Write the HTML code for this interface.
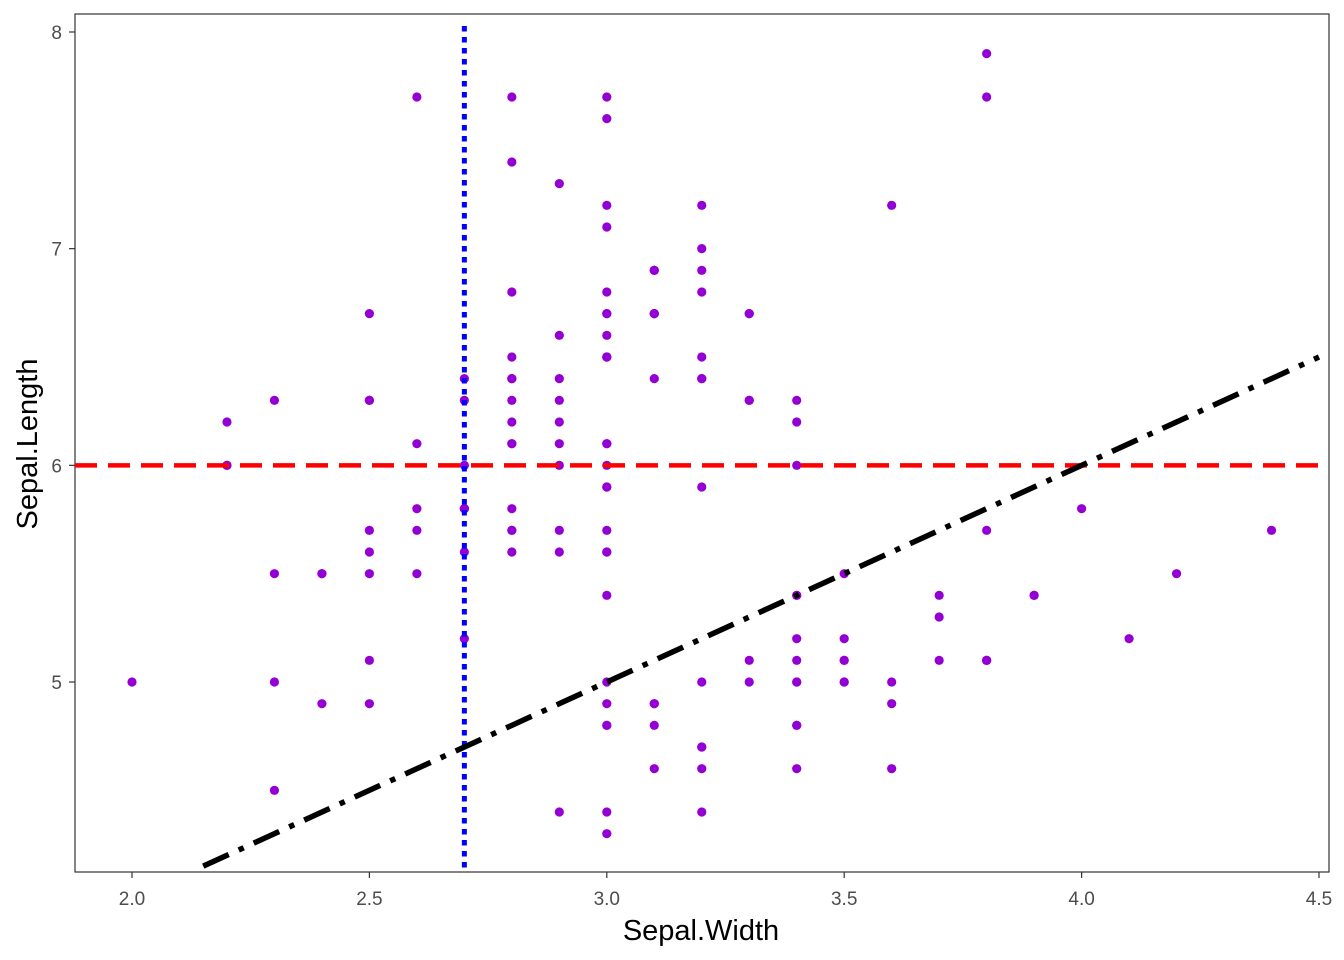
<!DOCTYPE html>
<html><head><meta charset="utf-8"><style>
html,body{margin:0;padding:0;background:#fff;}
svg{display:block;font-family:"Liberation Sans",sans-serif;}
</style></head><body>
<svg id="chart" width="1344" height="960">
<rect x="75" y="14" width="1254" height="858" fill="#fff" stroke="#333" stroke-width="1.2"/>
<g id="pts"></g>
<g id="refs"></g>
<g id="xt"></g>
<g id="yt"></g>
<text x="701" y="940" text-anchor="middle" font-size="29" fill="#000">Sepal.Width</text>
<text transform="translate(37,444) rotate(-90)" text-anchor="middle" font-size="29" fill="#000">Sepal.Length</text>
</svg>
<script>
const sepalWidth=[3.5,3.0,3.2,3.1,3.6,3.9,3.4,3.4,2.9,3.1,3.7,3.4,3.0,3.0,4.0,4.4,3.9,3.5,3.8,3.8,3.4,3.7,3.6,3.3,3.4,3.0,3.4,3.5,3.4,3.2,3.1,3.4,4.1,4.2,3.1,3.2,3.5,3.6,3.0,3.4,3.5,2.3,3.2,3.5,3.8,3.0,3.8,3.2,3.7,3.3,
3.2,3.2,3.1,2.3,2.8,2.8,3.3,2.4,2.9,2.7,2.0,3.0,2.2,2.9,2.9,3.1,3.0,2.7,2.2,2.5,3.2,2.8,2.5,2.8,2.9,3.0,2.8,3.0,2.9,2.6,2.4,2.4,2.7,2.7,3.0,3.4,3.1,2.3,3.0,2.5,2.6,3.0,2.6,2.3,2.7,3.0,2.9,2.9,2.5,2.8,
3.3,2.7,3.0,2.9,3.0,3.0,2.5,2.9,2.5,3.6,3.2,2.7,3.0,2.5,2.8,3.2,3.0,3.8,2.6,2.2,3.2,2.8,2.8,2.7,3.3,3.2,2.8,3.0,2.8,3.0,2.8,3.8,2.8,2.8,2.6,3.0,3.4,3.1,3.0,3.1,3.1,3.1,2.7,3.2,3.3,3.0,2.5,3.0,3.4,3.0];
const sepalLength=[5.1,4.9,4.7,4.6,5.0,5.4,4.6,5.0,4.4,4.9,5.4,4.8,4.8,4.3,5.8,5.7,5.4,5.1,5.7,5.1,5.4,5.1,4.6,5.1,4.8,5.0,5.0,5.2,5.2,4.7,4.8,5.4,5.2,5.5,4.9,5.0,5.5,4.9,4.4,5.1,5.0,4.5,4.4,5.0,5.1,4.8,5.1,4.6,5.3,5.0,
7.0,6.4,6.9,5.5,6.5,5.7,6.3,4.9,6.6,5.2,5.0,5.9,6.0,6.1,5.6,6.7,5.6,5.8,6.2,5.6,5.9,6.1,6.3,6.1,6.4,6.6,6.8,6.7,6.0,5.7,5.5,5.5,5.8,6.0,5.4,6.0,6.7,6.3,5.6,5.5,5.5,6.1,5.8,5.0,5.6,5.7,5.7,6.2,5.1,5.7,
6.3,5.8,7.1,6.3,6.5,7.6,4.9,7.3,6.7,7.2,6.5,6.4,6.8,5.7,5.8,6.4,6.5,7.7,7.7,6.0,6.9,5.6,7.7,6.3,6.7,7.2,6.2,6.1,6.4,7.2,7.4,7.9,6.4,6.3,6.1,7.7,6.3,6.4,6.0,6.9,6.7,6.9,5.8,6.8,6.7,6.7,6.3,6.5,6.2,5.9];
const xTicks=[2.0,2.5,3.0,3.5,4.0,4.5];
const xTickLabels=["2.0","2.5","3.0","3.5","4.0","4.5"];
const yTicks=[5,6,7,8];
const yTickLabels=["5","6","7","8"];
const hlineY=[6];
const vlineX=[2.7];
const ablineIntercept=[2];
const ablineSlope=[1];

const X0=75,X1=1329,Y0=14,Y1=872;
const sx=v=>132+(v-2.0)*474.8;
const sy=v=>682-(v-5)*216.67;
const NS="http://www.w3.org/2000/svg";
function mk(tag,attrs,parent){const e=document.createElementNS(NS,tag);for(const k in attrs)e.setAttribute(k,attrs[k]);parent.appendChild(e);return e;}
const pts=document.getElementById('pts');
for(let i=0;i<sepalWidth.length;i++){
  const c=mk('circle',{cx:sx(sepalWidth[i]),cy:sy(sepalLength[i]),r:4.6,fill:'#9400D3'},pts);
  
  
}
const refs=document.getElementById('refs');
hlineY.forEach(v=>{const l=mk('line',{x1:X0,x2:X1,y1:sy(v),y2:sy(v),stroke:'#ff0000','stroke-width':4.5,'stroke-dasharray':'22 11'},refs);
  
  });
vlineX.forEach(v=>{const l=mk('line',{x1:sx(v),x2:sx(v),y1:26,y2:Y1,stroke:'#0000ff','stroke-width':5,'stroke-dasharray':'5.5 5.5'},refs);
  
  });
ablineIntercept.forEach((a,i)=>{const b=ablineSlope[i];
  const xa=2.15, xb=4.5;
  const l=mk('line',{x1:sx(xa),y1:sy(a+b*xa),x2:sx(xb),y2:sy(a+b*xb),stroke:'#000','stroke-width':5.5,'stroke-dasharray':'28 11 5.5 11'},refs);
  
  });
const xt=document.getElementById('xt');
xTicks.forEach((v,i)=>{
  const t=mk('line',{x1:sx(v),x2:sx(v),y1:Y1,y2:Y1+6,stroke:'#333','stroke-width':1.2},xt);
  
  
  const tx=mk('text',{x:sx(v),y:Y1+33,'text-anchor':'middle','font-size':19,fill:'#4d4d4d'},xt);
  tx.textContent=xTickLabels[i];
  
  
});
const yt=document.getElementById('yt');
yTicks.forEach((v,i)=>{
  const t=mk('line',{x1:X0-6,x2:X0,y1:sy(v),y2:sy(v),stroke:'#333','stroke-width':1.2},yt);
  
  
  const tx=mk('text',{x:X0-13,y:sy(v)+7,'text-anchor':'end','font-size':19,fill:'#4d4d4d'},yt);
  tx.textContent=yTickLabels[i];
  
  
});
</script>
</body></html>
